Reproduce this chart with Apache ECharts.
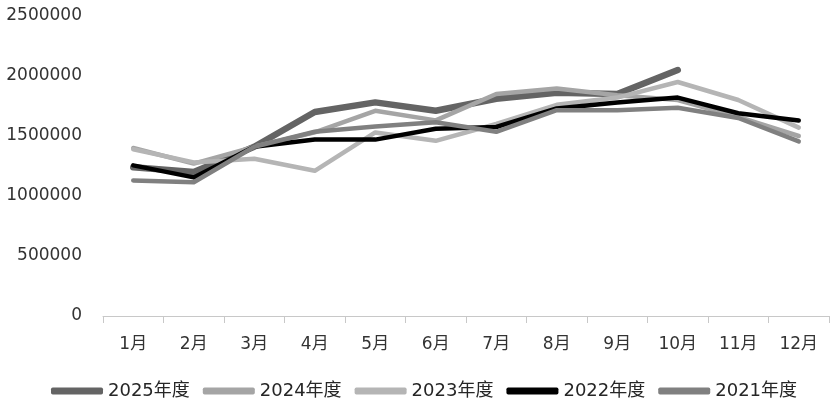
<!DOCTYPE html>
<html>
<head>
<meta charset="utf-8">
<script src="https://cdn.jsdelivr.net/npm/echarts@6/dist/echarts.min.js"></script>
<style>
  html, body { margin: 0; padding: 0; background: #fff; }
  #main { width: 834px; height: 410px; }
</style>
</head>
<body>
<div id="main"></div>
<script>
// 月份
let months = ['1月', '2月', '3月', '4月', '5月', '6月', '7月', '8月', '9月', '10月', '11月', '12月'];
// 各年度数据
let y2025 = [1240000, 1200000, 1410000, 1700000, 1780000, 1710000, 1810000, 1860000, 1850000, 2050000];
let y2024 = [1400000, 1270000, 1410000, 1530000, 1710000, 1630000, 1850000, 1895000, 1840000, 1800000, 1660000, 1500000];
let y2023 = [1390000, 1280000, 1310000, 1210000, 1530000, 1460000, 1600000, 1760000, 1820000, 1950000, 1800000, 1570000];
let y2022 = [1255000, 1155000, 1410000, 1470000, 1470000, 1560000, 1575000, 1730000, 1780000, 1820000, 1690000, 1630000];
let y2021 = [1130000, 1115000, 1410000, 1535000, 1580000, 1615000, 1535000, 1715000, 1715000, 1735000, 1650000, 1455000];

let chart = echarts.init(document.getElementById('main'));

function line(name, data, color, width) {
    return {
        name: name,
        type: 'line',
        data: data,
        symbol: 'none',
        lineStyle: { color: color, width: width, cap: 'round', join: 'round' },
        itemStyle: { color: color },
        animation: false
    };
}

chart.setOption({
    animation: false,
    grid: { left: 103, right: 5, top: 16, bottom: 94, containLabel: false, outerBoundsMode: 'none' },
    legend: {
        top: 377,
        left: 46,
        itemWidth: 52,
        itemHeight: 7,
        itemGap: 13,
        icon: 'roundRect',
        textStyle: { fontSize: 18, color: '#262626', fontFamily: 'DejaVu Sans, Noto Sans CJK SC' },
        data: ['2025年度', '2024年度', '2023年度', '2022年度', '2021年度']
    },
    xAxis: {
        type: 'category',
        data: months,
        boundaryGap: true,
        axisLine: { lineStyle: { color: '#c8c8c8', width: 1 } },
        axisTick: { show: true, length: 7, inside: false, lineStyle: { color: '#c8c8c8' } },
        axisLabel: { margin: 20, fontSize: 17, color: '#333', fontFamily: 'DejaVu Sans, Noto Sans CJK SC' }
    },
    yAxis: {
        type: 'value',
        min: 0,
        max: 2500000,
        interval: 500000,
        axisLine: { show: false },
        axisTick: { show: false },
        splitLine: { show: false },
        axisLabel: {
            margin: 21, fontSize: 17, color: '#333', fontFamily: 'DejaVu Sans',
            formatter: function (v) { return String(v); }
        }
    },
    series: [
        line('2025年度', y2025, '#646464', 6.5),
        line('2024年度', y2024, '#a5a5a5', 4.5),
        line('2023年度', y2023, '#b5b5b5', 4.5),
        line('2022年度', y2022, '#000000', 4.5),
        line('2021年度', y2021, '#808080', 4.5)
    ]
});
</script>
</body>
</html>
